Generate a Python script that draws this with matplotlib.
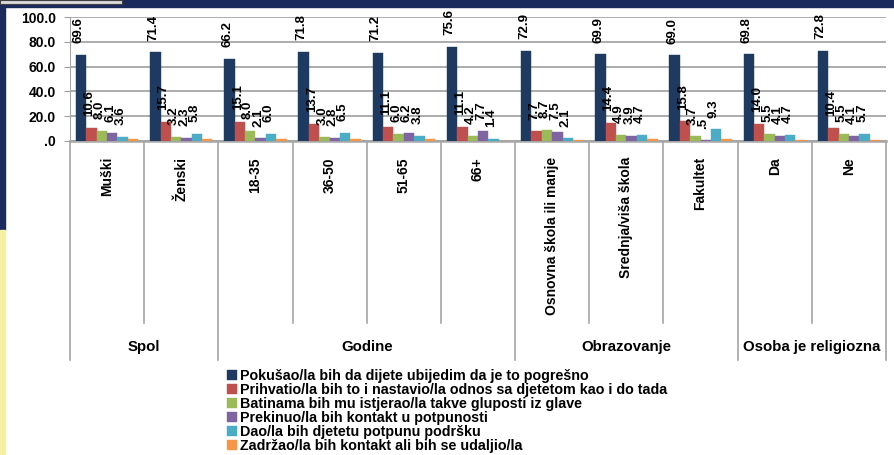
import matplotlib.pyplot as plt
import matplotlib.transforms as mtransforms
from matplotlib.patches import Rectangle
import numpy as np

plt.rcParams["font.family"] = ["Liberation Sans", "DejaVu Sans"]
plt.rcParams["font.weight"] = "bold"

CATEGORIES = ["Muški", "Ženski", "18-35", "36-50", "51-65", "66+",
              "Osnovna škola ili manje", "Srednja/viša škola", "Fakultet",
              "Da", "Ne"]
GROUPS = ["Spol", "Godine", "Obrazovanje", "Osoba je religiozna"]
GROUP_SIZES = [2, 4, 3, 2]

SERIES = [
    "Pokušao/la bih da dijete ubijedim da je to pogrešno",
    "Prihvatio/la bih to i nastavio/la odnos sa djetetom kao i do tada",
    "Batinama bih mu istjerao/la takve gluposti iz glave",
    "Prekinuo/la bih kontakt u potpunosti",
    "Dao/la bih djetetu potpunu podršku",
    "Zadržao/la bih kontakt ali bih se udaljio/la",
]
COLORS = ["#1F3A60", "#C0504D", "#9BBB59", "#8064A2", "#4BACC6", "#F79646"]

uvjeriti = [69.6, 71.4, 66.2, 71.8, 71.2, 75.6, 72.9, 69.9, 69.0, 69.8, 72.8]
prihvatiti = [10.6, 15.7, 15.1, 13.7, 11.1, 11.1, 7.7, 14.4, 15.8, 14.0, 10.4]
batine = [8.0, 3.2, 8.0, 3.0, 6.0, 4.2, 8.7, 4.9, 3.7, 5.5, 5.5]
prekinuti = [6.1, 2.3, 2.1, 2.8, 6.2, 7.7, 7.5, 3.9, 0.5, 4.1, 4.1]
podrska = [3.6, 5.8, 6.0, 6.5, 3.8, 1.4, 2.1, 4.7, 9.3, 4.7, 5.7]
udaljiti = [1.5, 1.5, 2.0, 1.5, 1.5, 0.4, 0.6, 1.5, 1.5, 1.2, 0.5]

VALUES = [uvjeriti, prihvatiti, batine, prekinuti, podrska, udaljiti]


def fmt(v):
    s = f"{v:.1f}"
    return s[1:] if s.startswith("0") else s


fig = plt.figure(figsize=(8.94, 4.55), dpi=100, facecolor="white")

# dekor okvira
fig.patches.append(Rectangle((0, 1 - 7 / 455), 1, 7 / 455, transform=fig.transFigure,
                             color="#1B2A5C", zorder=0))
fig.patches.append(Rectangle((0, 1 - 230 / 455), 5 / 894, 230 / 455, transform=fig.transFigure,
                             color="#1B2A5C", zorder=0))
fig.patches.append(Rectangle((0, 0), 5 / 894, 1 - 230 / 455, transform=fig.transFigure,
                             color="#F5F1A3", zorder=0))
fig.patches.append(Rectangle((0, 1 - 4 / 455), 122 / 894, 4 / 455, transform=fig.transFigure,
                             facecolor="#D9D9D9", edgecolor="#404040", lw=0.8, zorder=1))

ax = fig.add_axes([70 / 894, 1 - 141 / 455, 816 / 894, 124 / 455])
ax.set_facecolor("white")

x = np.arange(len(CATEGORIES))
w = 0.14
offsets = (np.arange(len(SERIES)) - 2.5) * w
for i, (name, vals, col) in enumerate(zip(SERIES, VALUES, COLORS)):
    bars = ax.bar(x + offsets[i], vals, w, color=col, label=name, zorder=3,
                  edgecolor=col, linewidth=0.3)
    if i < 5:
        for b, v in zip(bars, vals):
            ax.annotate(fmt(v), (b.get_x() + b.get_width() / 2 - 0.03, v),
                        xytext=(0, 8.5), textcoords="offset points",
                        rotation=90, ha="center", va="bottom", fontsize=9.5,
                        fontweight="bold", zorder=4)

ax.set_xlim(-0.5, len(CATEGORIES) - 0.5)
ax.set_ylim(0, 100)
yt = np.arange(0, 101, 20)
ax.set_yticks(yt)
ax.set_yticklabels([fmt(v) for v in yt], fontsize=10, fontweight="bold")
ax.tick_params(axis="y", length=4, color="#A0A0A0", pad=6)
ax.set_xticks([])
ax.grid(axis="y", color="#A6A6A6", lw=1.3, zorder=1)
for s in ["top", "right"]:
    ax.spines[s].set_visible(False)
ax.spines["left"].set_color("#A6A6A6")
ax.spines["bottom"].set_color("#A6A6A6")
ax.spines["bottom"].set_linewidth(1.8)

trans = mtransforms.blended_transform_factory(ax.transData, ax.transAxes)

# nazivi kategorija
for xi, cat in zip(x, CATEGORIES):
    ax.text(xi, -0.13, cat, rotation=90, ha="center", va="top", fontsize=10,
            fontweight="bold", transform=trans)

# separatori
bounds = np.cumsum([0] + GROUP_SIZES) - 0.5
for b in np.arange(len(CATEGORIES) + 1) - 0.5:
    bottom = -1.77 if b in bounds else -1.47
    ax.plot([b, b], [0, bottom], color="#A6A6A6", lw=1.2, transform=trans, clip_on=False)

for g, lo, hi in zip(GROUPS, bounds[:-1], bounds[1:]):
    ax.text((lo + hi) / 2, -1.66, g, ha="center", va="center", fontsize=10.8,
            fontweight="bold", transform=trans)

fig.legend(loc="upper left", bbox_to_anchor=(227 / 894, 1 - 369 / 455), frameon=False,
           fontsize=10.3, handlelength=0.7, handleheight=0.7, handletextpad=0.2,
           labelspacing=0.0, borderpad=0, borderaxespad=0)

fig.savefig("out.png", dpi=100, facecolor=fig.get_facecolor())
